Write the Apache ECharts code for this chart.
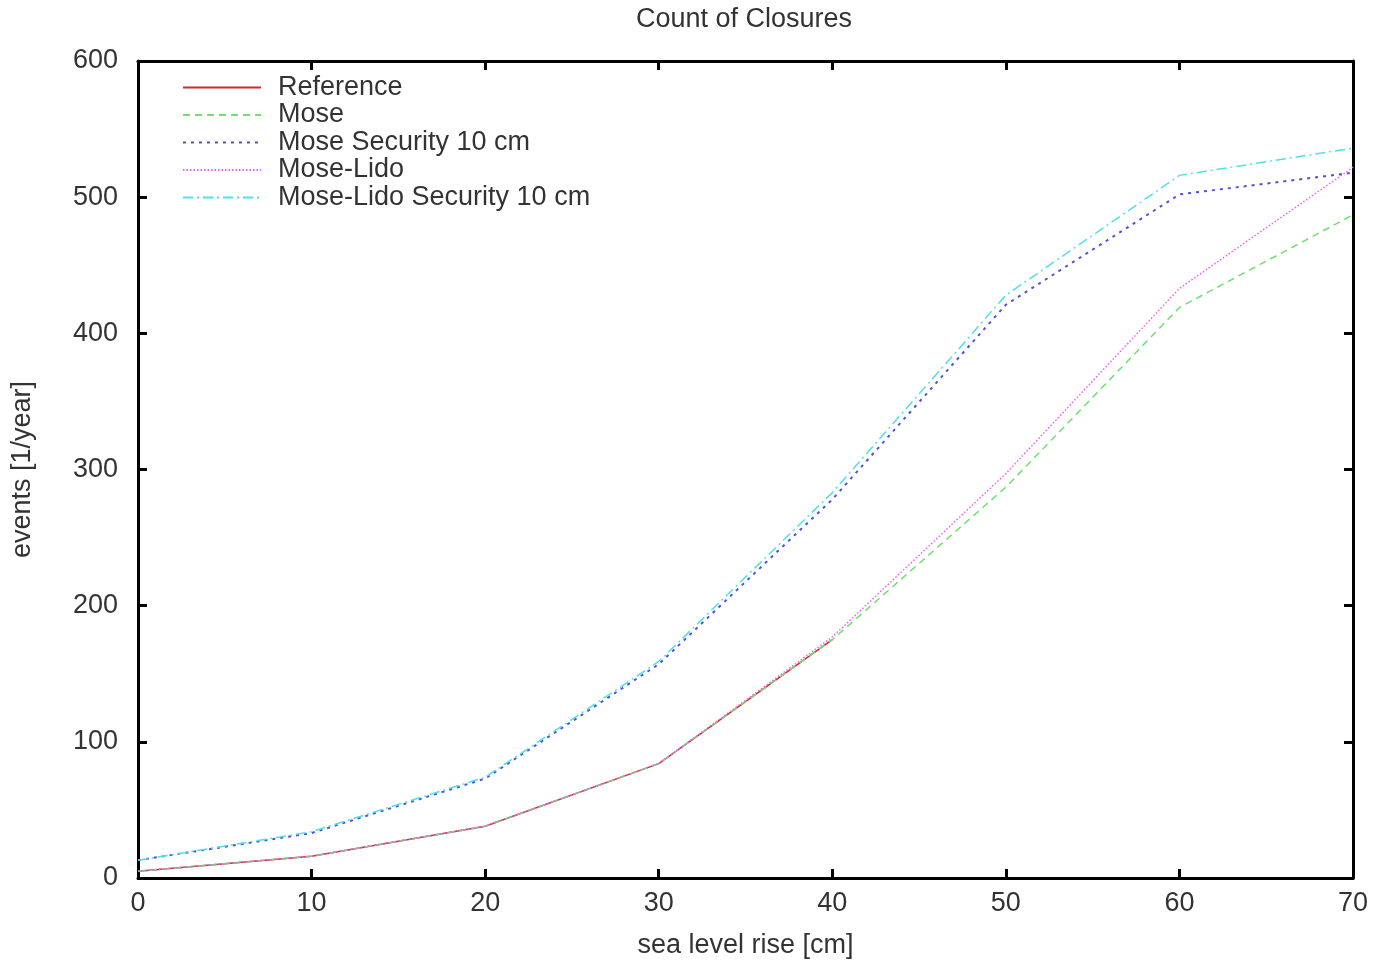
<!DOCTYPE html>
<html>
<head>
<meta charset="utf-8">
<script src="https://cdn.jsdelivr.net/npm/echarts@6/dist/echarts.min.js"></script>
<style>html,body{margin:0;padding:0;background:#fff;}#c{width:1374px;height:964px;}</style>
</head>
<body>
<div id="c"></div>
<script>
const xValues = [0, 10, 20, 30, 40, 50, 60, 70];
const reference = [5, 16, 38, 84, 175, null, null, null];
const mose = [5, 16, 38, 84, 175, 287, 419, 487];
const moseSecurity = [13, 33, 73, 157, 278, 421, 502, 518];
const moseLido = [5, 16, 38, 84, 177, 297, 433, 522];
const moseLidoSecurity = [13, 34, 74, 159, 283, 428, 516, 536];
const xTicks = [0, 10, 20, 30, 40, 50, 60, 70];
const yTicks = [0, 100, 200, 300, 400, 500, 600];

const seriesNames = ['Reference', 'Mose', 'Mose Security 10 cm', 'Mose-Lido', 'Mose-Lido Security 10 cm'];
const seriesData = [reference, mose, moseSecurity, moseLido, moseLidoSecurity];
const colors = ['#cc2b2b', '#6fe06f', '#5050d8', '#f060f0', '#50e0e8'];
const dashes = ['solid', [7, 5], [3, 5], [1.5, 2], [10, 4, 2, 4]];
const widths = [1.5, 1.5, 2, 1.5, 1.5];

const font = 'Liberation Sans, Arial, sans-serif';
const fs = 27;
const chart = echarts.init(document.getElementById('c'));
const series = seriesNames.map((n, i) => ({
  name: n,
  type: 'line',
  symbol: 'none',
  data: xValues.map((x, k) => [x, seriesData[i][k]]),
  connectNulls: false,
  lineStyle: { color: colors[i], width: widths[i], type: dashes[i] },
  itemStyle: { color: colors[i] },
  z: 2 + i
}));
const axisLine = { show: true, onZero: false, lineStyle: { color: '#000', width: 3 } };
const tick = { show: true, inside: true, length: 9, lineStyle: { color: '#000', width: 3 } };
chart.setOption({
  animation: false,
  backgroundColor: '#fff',
  title: {
    text: 'Count of Closures', left: 739, top: 1, textAlign: 'center',
    textStyle: { fontFamily: font, fontSize: fs, fontWeight: 'normal', color: '#333' }
  },
  legend: {
    orient: 'vertical', left: 177, top: 69,
    itemWidth: 78, itemHeight: 14, itemGap: 0.5,
    data: seriesNames,
    itemStyle: { opacity: 0 },
    textStyle: { fontFamily: font, fontSize: fs, color: '#333', lineHeight: 27, padding: [0, 0, 0, 12] },
    selectedMode: false
  },
  grid: { left: 138, right: 21, top: 61, bottom: 83, containLabel: false },
  xAxis: [{
    type: 'value', min: 0, max: 70, interval: 10,
    name: 'sea level rise [cm]', nameLocation: 'middle', nameGap: 54,
    nameTextStyle: { fontFamily: font, fontSize: fs, color: '#333' },
    axisLine: axisLine, axisTick: tick,
    axisLabel: { fontFamily: font, fontSize: fs, color: '#333', margin: 12 },
    splitLine: { show: false }
  }, {
    type: 'value', min: 0, max: 70, interval: 10, position: 'top',
    axisLine: axisLine, axisTick: tick,
    axisLabel: { show: false }, splitLine: { show: false }
  }],
  yAxis: [{
    type: 'value', min: 0, max: 600, interval: 100,
    name: 'events [1/year]', nameLocation: 'middle', nameGap: 102, nameRotate: 90,
    nameTextStyle: { fontFamily: font, fontSize: fs, color: '#333' },
    axisLine: axisLine, axisTick: tick,
    axisLabel: { fontFamily: font, fontSize: fs, color: '#333', margin: 20 },
    splitLine: { show: false }
  }, {
    type: 'value', min: 0, max: 600, interval: 100, position: 'right',
    axisLine: axisLine, axisTick: tick,
    axisLabel: { show: false }, splitLine: { show: false }
  }],
  series: series
});
</script>
</body>
</html>
